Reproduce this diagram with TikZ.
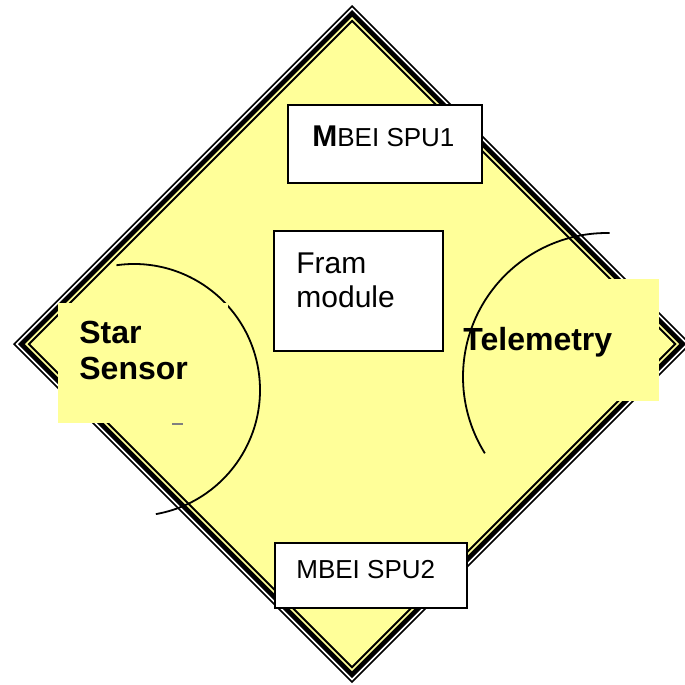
\documentclass[tikz,border=0pt]{standalone}
\usepackage{fontspec}
\setmainfont{Liberation Sans}
\usetikzlibrary{positioning}

\definecolor{padyellow}{HTML}{FFFF99}

% diamond outline around (352,344), half diagonal #1
\newcommand{\padpath}[1]{(352,344-#1) -- (352+#1,344) -- (352,344+#1) -- (352-#1,344) -- cycle}

\begin{document}
\begin{tikzpicture}[
    x=0.5pt, y=-0.5pt,
    box/.style={draw, fill=white, line width=1pt, inner sep=0pt},
    patch/.style={fill=padyellow, inner sep=0pt},
    lbl/.style={anchor=base west, inner sep=0pt, align=left},
    rim/.style={line width=0.9pt},
]
\useasboundingbox (0,0) rectangle (685,685);
\clip (0,0) rectangle (685,685);

% layered border of the board
\foreach \r/\c in {339/black, 336.5/white, 334/black, 327/padyellow, 324.5/black, 321.5/padyellow}
    \fill[\c] \padpath{\r};

% star sensor side
\draw[rim] (134,390) ++(98:63pt) arc[start angle=98, end angle=-80, radius=63pt];
\node[patch, minimum width=85pt, minimum height=60pt] (starpatch) at (143,363) {};
\node[lbl, font=\fontsize{16pt}{18pt}\selectfont\bfseries] (star) at (79,379) {Star\\Sensor};
\draw[gray, line width=0.6pt] (172,424) -- (183,424);

% telemetry side
\node[patch, minimum width=98.5pt, minimum height=61pt] (telpatch) at (560.5,340) {};
\draw[rim] (607,377) ++(89:72pt) arc[start angle=89, end angle=212, radius=72pt];
\node[lbl, font=\fontsize{16pt}{18pt}\selectfont\bfseries] (tel) at (463,350) {Telemetry};

% boards
\node[box, minimum width=97pt, minimum height=39pt] (spu1) at (385,144) {};
\node[lbl] (spu1txt) at (312,146) {{\fontsize{15pt}{18pt}\selectfont\bfseries M}{\fontsize{13pt}{16pt}\selectfont BEI SPU1}};

\node[box, minimum width=84.5pt, minimum height=60pt] (fram) at (358.5,291) {};
\node[lbl, font=\fontsize{15pt}{17pt}\selectfont] (framtxt) at (296,307) {Fram\\module};

\node[box, minimum width=96pt, minimum height=32.5pt] (spu2) at (371,575.5) {};
\node[lbl, font=\fontsize{13pt}{16pt}\selectfont] (spu2txt) at (296,578) {MBEI SPU2};
\end{tikzpicture}
\end{document}
